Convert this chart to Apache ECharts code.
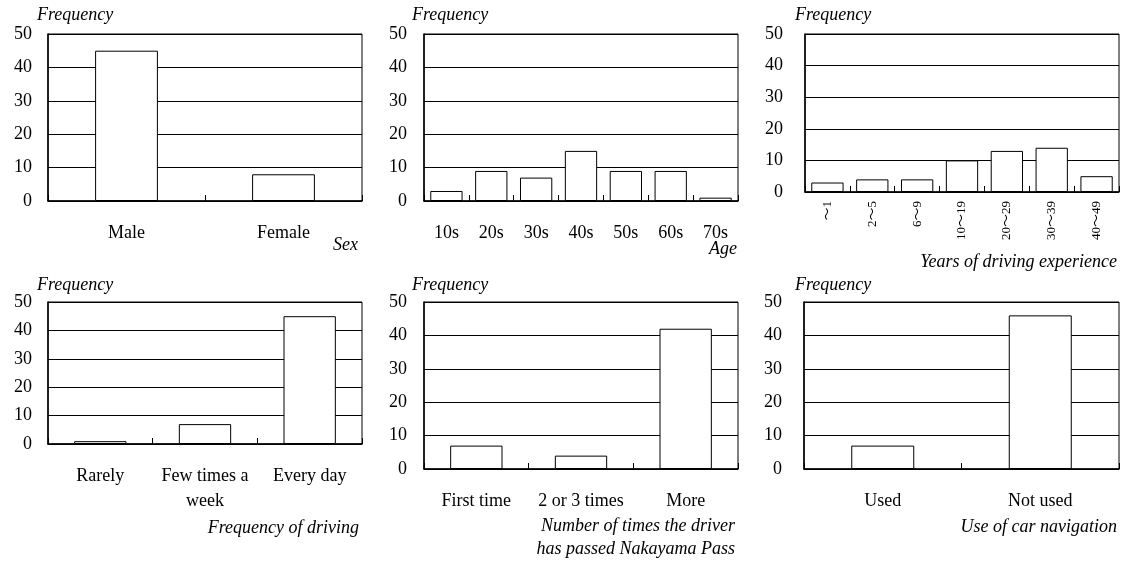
<!DOCTYPE html>
<html>
<head>
<meta charset="utf-8">
<script src="https://cdn.jsdelivr.net/npm/echarts@6/dist/echarts.min.js"></script>
<style>
  html, body { margin: 0; padding: 0; background: #fff; }
  #chart { width: 1125px; height: 563px; }
</style>
</head>
<body>
<div id="chart"></div>
<script>
// data
const sexCats = ['Male', 'Female']
const sexVals = [45, 8]

const ageCats = ['10s', '20s', '30s', '40s', '50s', '60s', '70s']
const ageVals = [3, 9, 7, 15, 9, 9, 1]

const expCats = ['〜1', '2〜5', '6〜9', '10〜19', '20〜29', '30〜39', '40〜49']
const expVals = [3, 4, 4, 10, 13, 14, 5]

const driveCats = ['Rarely', 'Few times a\nweek', 'Every day']
const driveVals = [1, 7, 45]

const passCats = ['First time', '2 or 3 times', 'More']
const passVals = [7, 4, 42]

const naviCats = ['Used', 'Not used']
const naviVals = [7, 46]

const yTicks = [0, 10, 20, 30, 40, 50]

const FONT = "'Liberation Serif', 'Times New Roman', 'Noto Sans CJK JP', serif"

// one entry per small chart
const panels = [
  { cats: sexCats, vals: sexVals, name: 'Sex', box: [48, 34, 314, 167], barW: '40%', yGap: 16, freq: [37, 15], nameAt: [358, 245] },
  { cats: ageCats, vals: ageVals, name: 'Age', box: [424, 34, 314, 167], barW: '72%', yGap: 17, freq: [412, 15], nameAt: [737, 249] },
  { cats: expCats, vals: expVals, name: 'Years of driving experience', box: [805, 34, 314, 158], barW: '72%', yGap: 22, freq: [795, 15], nameAt: [1117, 262], rotate: true },
  { cats: driveCats, vals: driveVals, name: 'Frequency of driving', box: [48, 302, 314, 142], barW: '50%', yGap: 16, freq: [37, 285], nameAt: [359, 528] },
  { cats: passCats, vals: passVals, name: 'Number of times the driver\nhas passed Nakayama Pass', box: [424, 302, 314, 167], barW: '50%', yGap: 17, freq: [412, 285], nameAt: [735, 538] },
  { cats: naviCats, vals: naviVals, name: 'Use of car navigation', box: [804, 302, 315, 167], barW: '40%', yGap: 22, freq: [795, 285], nameAt: [1117, 527] }
]

const option = {
  backgroundColor: '#fff',
  animation: false,
  textStyle: { fontFamily: FONT, color: '#000' },
  grid: [], xAxis: [], yAxis: [], series: [], graphic: []
}

panels.forEach((p, i) => {
  option.grid.push({
    left: p.box[0], top: p.box[1], width: p.box[2], height: p.box[3],
    show: true, borderColor: '#000', borderWidth: 1
  })
  option.xAxis.push({
    type: 'category', gridIndex: i, data: p.cats,
    axisLine: { lineStyle: { color: '#000', width: 1.5 } },
    axisTick: { show: true, inside: true, length: 6, lineStyle: { color: '#000' } },
    axisLabel: p.rotate
      ? { interval: 0, rotate: 90, margin: 9, fontSize: 13, color: '#000', fontFamily: FONT }
      : { interval: 0, margin: 20, fontSize: 18, color: '#000', fontFamily: FONT, lineHeight: 25 },
    splitLine: { show: false }
  })
  option.yAxis.push({
    type: 'value', gridIndex: i, min: yTicks[0], max: yTicks[yTicks.length - 1], interval: 10,
    axisLine: { show: true, lineStyle: { color: '#000', width: 1.5 } },
    axisTick: { show: false },
    axisLabel: { margin: p.yGap, fontSize: 18, color: '#000', fontFamily: FONT },
    splitLine: { show: true, lineStyle: { color: '#000', width: 1 } }
  })
  option.series.push({
    type: 'bar', xAxisIndex: i, yAxisIndex: i, data: p.vals, barWidth: p.barW,
    itemStyle: { color: '#fff', borderColor: '#000', borderWidth: 1 },
    silent: true
  })
  option.graphic.push({
    type: 'text', x: p.freq[0], y: p.freq[1], silent: true,
    style: { text: 'Frequency', fill: '#000', font: 'italic 18px ' + FONT, textAlign: 'left', textVerticalAlign: 'middle' }
  })
  option.graphic.push({
    type: 'text', x: p.nameAt[0], y: p.nameAt[1], silent: true,
    style: { text: p.name, fill: '#000', font: 'italic 18px ' + FONT, textAlign: 'right', textVerticalAlign: 'middle', lineHeight: 23 }
  })
})

const chart = echarts.init(document.getElementById('chart'))
chart.setOption(option)
</script>
</body>
</html>
